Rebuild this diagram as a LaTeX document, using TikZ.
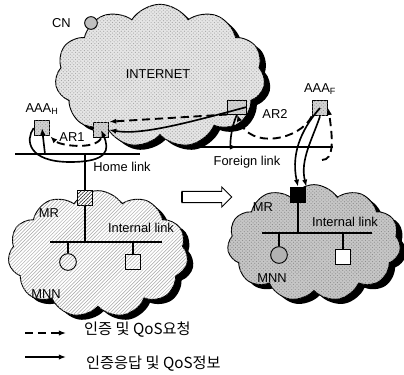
\documentclass[tikz,border=0pt]{standalone}
\usepackage{fontspec}
\setmainfont{Liberation Sans}
\newfontfamily\kr{Noto Sans CJK KR}
\usetikzlibrary{shapes.symbols,shapes.arrows,patterns,shadows,arrows.meta,positioning}
\begin{document}
\begin{tikzpicture}[x=0.03cm,y=-0.03cm,font=\fontsize{11}{13}\selectfont,
    net/.style={cloud, cloud puffs=11, cloud puff arc=115, cloud ignores aspect, draw=black, thick,
        drop shadow={shadow xshift=5pt, shadow yshift=-4pt, fill=black, opacity=1}},
    router/.style={draw=black, thick, minimum size=0.47cm, inner sep=0pt,
        fill=gray!35, postaction={pattern=crosshatch dots, pattern color=gray!80}},
    link/.style={line width=1.1pt},
    req/.style={line width=1.6pt, dash pattern=on 7pt off 4pt, -{Latex[length=6pt]}},
    resp/.style={line width=1.4pt, -{Latex[length=6pt]}},
    legend/.style={anchor=west, font=\kr\fontsize{13}{15}\selectfont}]
    \useasboundingbox (0,0) rectangle (404,374);
    % Internet
    \node[net, minimum width=6.3cm, minimum height=4.3cm, fill=gray!20,
        postaction={pattern=crosshatch dots, pattern color=gray!70}] (inet) at (160,76) {};
    \node at (158,74) {INTERNET};
    \node[circle, draw, thick, minimum size=0.38cm, fill=gray!50] (cn) at (91,23) {};
    \node[left=8pt of cn] {CN};
    % home network
    \draw[link] (15,154) coordinate (hl1) -- (140,154) coordinate (hl2);
    \node[router] (aaah) at (42,128) {};
    \node[above=1pt of aaah] {AAA\textsubscript{H}};
    \node[router] (ar1) at (101,130) {};
    \node at (72,137) {AR1};
    \node at (122,167) {Home link};
    % foreign network
    \draw[link] (183,147) coordinate (fl1) -- (333,147) coordinate (fl2);
    \node[router, minimum width=0.55cm, minimum height=0.42cm] (ar2) at (237,107) {};
    \node at (275,114) {AR2};
    \node[router] (aaaf) at (320,108) {};
    \node[above=1pt of aaaf] {AAA\textsubscript{F}};
    \node at (247,162) {Foreign link};
    % mobile network before movement
    \node[net, minimum width=5.4cm, minimum height=3.8cm, fill=white,
        postaction={pattern=north east lines, pattern color=gray!70}] (mnet1) at (98,254) {};
    \node[router, minimum size=0.45cm, fill=white,
        postaction={pattern=north east lines}] (mr1) at (85,198) {};
    \draw[link] (85,154) -- (mr1);
    \draw[link] (50,242) coordinate (il1) -- (162,242) coordinate (il2);
    \draw[link] (mr1) -- (85,242);
    \node[circle, draw, thick, minimum size=0.5cm] (mnn1) at (68,262) {};
    \node[draw, thick, minimum size=0.45cm] (host1) at (133,262) {};
    \draw[link] (68,242) -- (mnn1);
    \draw[link] (133,242) -- (host1);
    \node at (49,213) {MR};
    \node at (141,228) {Internal link};
    \node at (46,294) {MNN};
    % movement
    \node[single arrow, draw, thick, fill=white, minimum height=1.5cm,
        minimum width=0.6cm, single arrow head extend=3pt] (move) at (204,197) {};
    \draw[line width=2pt] (182,192) -- (182,202);
    % mobile network after movement
    \node[net, minimum width=5.2cm, minimum height=3.5cm, fill=gray!45,
        postaction={pattern=crosshatch dots, pattern color=gray!90}] (mnet2) at (314,243) {};
    \node[draw=black, thick, fill=black, minimum size=0.47cm, inner sep=0pt] (mr2) at (298,195) {};
    \draw[link] (262,233) coordinate (il3) -- (372,233) coordinate (il4);
    \draw[link] (mr2) -- (298,233);
    \node[circle, draw, thick, minimum size=0.5cm, fill=gray!60] (mnn2) at (279,255) {};
    \node[draw, thick, minimum size=0.45cm, fill=white] (host2) at (343,257) {};
    \draw[link] (279,233) -- (mnn2);
    \draw[link] (343,233) -- (host2);
    \node at (263,207) {MR};
    \node at (345,222) {Internal link};
    \node at (272,278) {MNN};
    % signalling: requests
    \coordinate (q1) at (322,160);
    \draw[req] (q1) .. controls (334,160) and (333,140) .. (aaaf.east);
    \draw[req] (aaaf.south west) .. controls (300,140) and (250,150) .. (ar2.south);
    \draw[req] (ar2.south west) -- (ar1.north east);
    \draw[req] (ar1.south) .. controls (95,150) and (60,146) .. (aaah.south east);
    % signalling: responses
    \coordinate (p1) at (45,154);
    \draw[resp] (p1) -- (aaah.center);
    \draw[resp] (aaah.west) .. controls (25,140) and (28,162) .. (70,162)
        .. controls (108,162) and (110,150) .. (ar1.center);
    \draw[resp] (ar2.east) .. controls (180,125) and (140,135) .. (ar1.east);
    \draw[resp] (ar2.south) .. controls (230,130) and (230,147) .. (fl1 -| ar2.south);
    \draw[resp] (aaaf.center) .. controls (305,125) and (290,150) .. (mr2.north);
    \draw[resp] (aaaf.south) .. controls (312,140) and (300,160) .. (mr2.north east);
    % legend
    \coordinate (la1) at (25,333);
    \coordinate (la2) at (66,333);
    \coordinate (lb1) at (25,357);
    \coordinate (lb2) at (66,357);
    \draw[req] (la1) -- (la2);
    \draw[resp] (lb1) -- (lb2);
    \node[legend] at (80,330) {인증 및 QoS요청};
    \node[legend] at (82,364) {인증응답 및 QoS정보};
\end{tikzpicture}
\end{document}
